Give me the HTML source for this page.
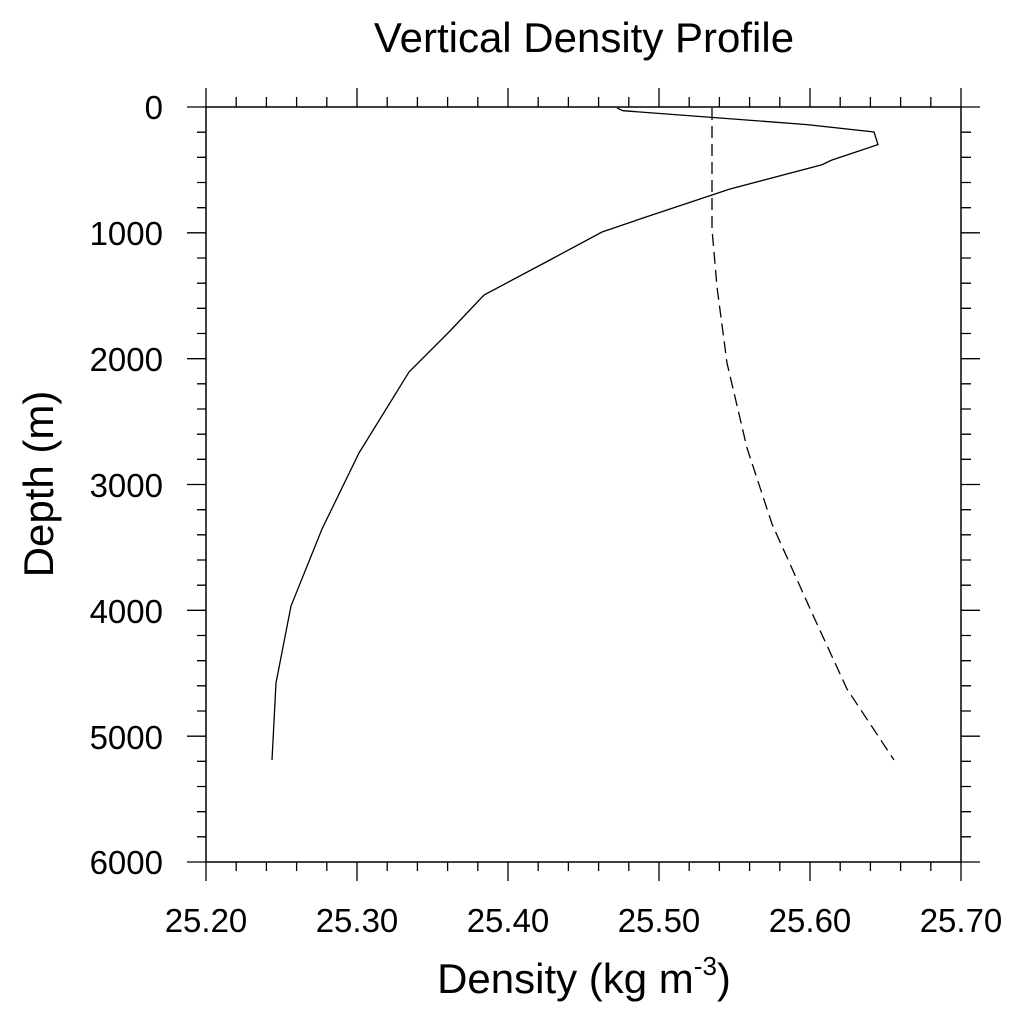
<!DOCTYPE html>
<html><head><style>html,body{margin:0;padding:0;background:#fff}svg{display:block}</style></head>
<body>
<svg width="1024" height="1024" viewBox="0 0 1024 1024" xmlns="http://www.w3.org/2000/svg" font-family="Liberation Sans, Arial, sans-serif">
<rect width="1024" height="1024" fill="#fff"/>
<text x="584" y="52" font-size="42" text-anchor="middle">Vertical Density Profile</text>
<g stroke="#000" stroke-width="1.3" fill="none">
<!-- top ticks -->
<path d="M206,107V88 M236.2,107V97 M266.4,107V97 M296.6,107V97 M326.8,107V97 M357,107V88 M387.2,107V97 M417.4,107V97 M447.6,107V97 M477.8,107V97 M508,107V88 M538.2,107V97 M568.4,107V97 M598.6,107V97 M628.8,107V97 M659,107V88 M689.2,107V97 M719.4,107V97 M749.6,107V97 M779.8,107V97 M810,107V88 M840.2,107V97 M870.4,107V97 M900.6,107V97 M930.8,107V97 M961,107V88"/>
<!-- bottom ticks -->
<path d="M206,862V881 M236.2,862V871 M266.4,862V871 M296.6,862V871 M326.8,862V871 M357,862V881 M387.2,862V871 M417.4,862V871 M447.6,862V871 M477.8,862V871 M508,862V881 M538.2,862V871 M568.4,862V871 M598.6,862V871 M628.8,862V871 M659,862V881 M689.2,862V871 M719.4,862V871 M749.6,862V871 M779.8,862V871 M810,862V881 M840.2,862V871 M870.4,862V871 M900.6,862V871 M930.8,862V871 M961,862V881"/>
<!-- left ticks -->
<path d="M206,107H187 M206,132.2H197 M206,157.3H197 M206,182.5H197 M206,207.7H197 M206,232.8H187 M206,258H197 M206,283.2H197 M206,308.3H197 M206,333.5H197 M206,358.7H187 M206,383.8H197 M206,409H197 M206,434.2H197 M206,459.3H197 M206,484.5H187 M206,509.7H197 M206,534.8H197 M206,560H197 M206,585.2H197 M206,610.3H187 M206,635.5H197 M206,660.7H197 M206,685.8H197 M206,711H197 M206,736.2H187 M206,761.3H197 M206,786.5H197 M206,811.7H197 M206,836.8H197 M206,862H187"/>
<!-- right ticks -->
<path d="M961,107H980 M961,132.2H971 M961,157.3H971 M961,182.5H971 M961,207.7H971 M961,232.8H980 M961,258H971 M961,283.2H971 M961,308.3H971 M961,333.5H971 M961,358.7H980 M961,383.8H971 M961,409H971 M961,434.2H971 M961,459.3H971 M961,484.5H980 M961,509.7H971 M961,534.8H971 M961,560H971 M961,585.2H971 M961,610.3H980 M961,635.5H971 M961,660.7H971 M961,685.8H971 M961,711H971 M961,736.2H980 M961,761.3H971 M961,786.5H971 M961,811.7H971 M961,836.8H971 M961,862H980"/>
</g>
<rect x="206" y="107" width="755" height="755" fill="none" stroke="#000" stroke-width="1.5"/>
<g font-size="33" text-anchor="end">
<text x="163" y="119">0</text>
<text x="163" y="245">1000</text>
<text x="163" y="371">2000</text>
<text x="163" y="497">3000</text>
<text x="163" y="623">4000</text>
<text x="163" y="749">5000</text>
<text x="163" y="874">6000</text>
</g>
<g font-size="33" text-anchor="middle">
<text x="206" y="932">25.20</text>
<text x="357" y="932">25.30</text>
<text x="508" y="932">25.40</text>
<text x="659" y="932">25.50</text>
<text x="810" y="932">25.60</text>
<text x="961" y="932">25.70</text>
</g>
<text x="584" y="993" font-size="42" text-anchor="middle">Density (kg m<tspan font-size="26" dy="-18">-3</tspan><tspan dy="18">)</tspan></text>
<text transform="translate(53,484) rotate(-90)" font-size="42" text-anchor="middle">Depth (m)</text>
<polyline fill="none" stroke="#000" stroke-width="1.3" points="617,108 623,110.7 807,124.6 874,132 878,144.6 832,160 822,164.7 730,189 712,195 643,218 602,232 548,261 484,295 449,332 409,372 359,453 322,529 291,606 276,683 272,760"/>
<polyline fill="none" stroke="#000" stroke-width="1.3" stroke-dasharray="12,6" points="712,108 712,203 712,229 717,287 727,363 747,448 772,524 812,613 847,689 894,760"/>
</svg>
</body></html>
